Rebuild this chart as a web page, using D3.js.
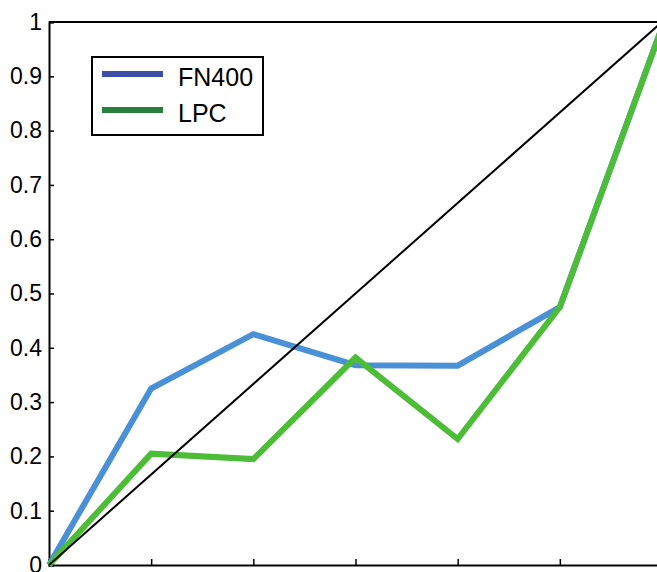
<!DOCTYPE html>
<html>
<head>
<meta charset="utf-8">
<script src="https://cdn.jsdelivr.net/npm/d3@7"></script>
<style>
  html, body { margin: 0; padding: 0; background: #fff; }
  svg { display: block; }
  text { font-family: "Liberation Sans", Arial, Helvetica, sans-serif; fill: #000; }
</style>
</head>
<body>
<script>
// Bin positions along the x axis (0..6) and the observed proportions per bin
const bins = [0, 1, 2, 3, 4, 5, 6];
const fn400 = [0, 0.325, 0.425, 0.368, 0.367, 0.475, 0.99];
const lpc   = [0, 0.205, 0.195, 0.382, 0.232, 0.475, 0.99];
const yTicks = [0, 0.1, 0.2, 0.3, 0.4, 0.5, 0.6, 0.7, 0.8, 0.9, 1];
const seriesNames = ["FN400", "LPC"];
const lineColors = ["#4a90d6", "#4dbd38"];
const legendColors = ["#3d4ea8", "#2a7f3f"];

const W = 657, H = 572;
const margin = { left: 49, top: 22, bottom: 7 };
const plotRight = 662;

const svg = d3.select("body").append("svg")
  .attr("width", W).attr("height", H);

const x = d3.scaleLinear().domain([0, 6]).range([margin.left, plotRight]);
const y = d3.scaleLinear().domain([0, 1]).range([H - margin.bottom, margin.top]);

// Frame: top border line
svg.append("line")
  .attr("x1", margin.left).attr("x2", plotRight)
  .attr("y1", y(1)).attr("y2", y(1))
  .attr("stroke", "#000").attr("stroke-width", 2);

// Y axis with inward ticks
const yAxis = svg.append("g")
  .attr("transform", `translate(${margin.left},0)`)
  .call(d3.axisLeft(y).tickValues(yTicks).tickSize(-5).tickPadding(7)
    .tickFormat(d => d === 0 ? "0" : d === 1 ? "1" : d3.format(".1f")(d)));
yAxis.select(".domain").attr("stroke", "#000").attr("stroke-width", 2);
yAxis.selectAll(".tick line").attr("stroke", "#000").attr("stroke-width", 1.5);
yAxis.selectAll(".tick text").style("font-size", "23px")
  .style("font-family", "'Liberation Sans', Arial, sans-serif");

// X axis with inward ticks, no labels
const xAxis = svg.append("g")
  .attr("transform", `translate(0,${y(0)})`)
  .call(d3.axisBottom(x).tickValues(bins).tickSize(-6).tickFormat(""));
xAxis.select(".domain").attr("stroke", "#000").attr("stroke-width", 2);
xAxis.selectAll(".tick line").attr("stroke", "#000").attr("stroke-width", 1.5);

// Series lines
const line = d3.line().x((d, i) => x(bins[i])).y(d => y(d));
[fn400, lpc].forEach((vals, k) => {
  svg.append("path")
    .datum(vals)
    .attr("d", line)
    .attr("fill", "none")
    .attr("stroke", lineColors[k])
    .attr("stroke-width", 6)
    .attr("stroke-linejoin", "miter");
});

// Reference diagonal
svg.append("line")
  .attr("x1", x(0)).attr("y1", y(0))
  .attr("x2", x(6)).attr("y2", y(1))
  .attr("stroke", "#000").attr("stroke-width", 2);

// Legend
const lg = svg.append("g");
lg.append("rect")
  .attr("x", 92).attr("y", 57).attr("width", 171).attr("height", 78)
  .attr("fill", "#fff").attr("stroke", "#000").attr("stroke-width", 2);
seriesNames.forEach((name, k) => {
  const cy = 74 + k * 36;
  lg.append("line")
    .attr("x1", 102).attr("x2", 163).attr("y1", cy).attr("y2", cy)
    .attr("stroke", legendColors[k]).attr("stroke-width", 6);
  lg.append("text")
    .attr("x", 178).attr("y", cy + 12)
    .style("font-size", "25px")
    .text(name);
});
</script>
</body>
</html>
